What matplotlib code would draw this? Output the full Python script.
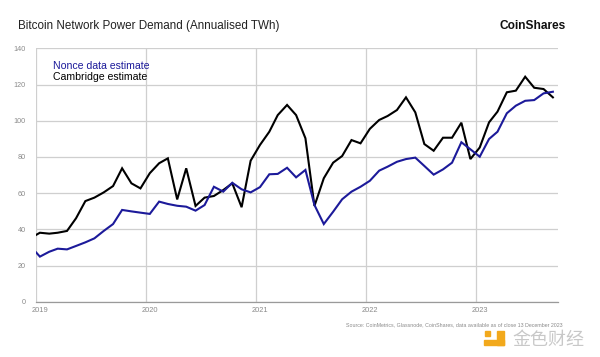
import datetime as dt
import matplotlib
matplotlib.use("Agg")
import matplotlib.pyplot as plt
from matplotlib.patches import Rectangle

# ---- data (monthly, mid-month, Dec 2018 .. Sep 2023) ----
start_year, start_month = 2018, 12
cambridge = [35.2,
             38.1, 37.6, 38.1, 39.1, 46.1, 55.6, 57.5, 60.4, 63.9, 73.7, 65.4, 62.6,
             71.0, 76.5, 79.2, 56.5, 73.7, 52.9, 57.5, 58.4, 61.7, 65.4, 52.2, 77.9,
             86.6, 93.9, 103.1, 108.7, 103.1, 90.3, 52.9, 68.2, 76.8, 80.5, 89.3, 87.5,
             95.5, 100.4, 102.6, 105.9, 112.9, 104.6, 87.1, 83.4, 90.6, 90.6, 98.9, 78.8,
             85.2, 99.1, 105.0, 115.7, 116.6, 124.3, 118.2, 117.5, 112.9]
nonce = [30.6,
         24.9, 27.6, 29.3, 28.9, 30.8, 32.8, 35.0, 39.1, 42.9, 50.7, 49.9, 49.2,
         48.5, 55.3, 54.0, 53.0, 52.5, 50.3, 53.4, 63.5, 60.8, 65.7, 62.1, 60.4,
         63.3, 70.4, 70.6, 74.0, 68.7, 72.8, 53.4, 42.9, 49.7, 56.6, 60.8, 63.5,
         66.8, 72.4, 74.6, 77.3, 78.8, 79.6, 75.0, 70.2, 73.1, 76.8, 88.1, 84.2,
         80.1, 89.9, 93.9, 104.1, 108.3, 111.0, 111.4, 115.1, 116.0]
years = [2019, 2020, 2021, 2022, 2023]
y_ticks = [0, 20, 40, 60, 80, 100, 120, 140]

dates = []
for i in range(len(cambridge)):
    m = start_month - 1 + i
    dates.append(dt.datetime(start_year + m // 12, m % 12 + 1, 15))

BLUE = "#1c1a9a"
GRID = "#cfcfcf"
TICK = "#8a8a8a"
FONT = ["Liberation Sans", "DejaVu Sans"]

fig = plt.figure(figsize=(6.0, 3.57), dpi=100)
ax = fig.add_axes([0.0595, 0.1549, 0.87, 0.7098])

ax.plot(dates, cambridge, color="black", lw=1.5, solid_joinstyle="miter", zorder=3)
ax.plot(dates, nonce, color=BLUE, lw=1.5, solid_joinstyle="miter", zorder=3)

ax.set_xlim(dt.datetime(2019, 1, 1), dt.datetime(2023, 10, 1))
ax.set_ylim(0, 140)

ax.set_xticks([dt.datetime(y, 1, 1) for y in years])
ax.set_xticklabels([])
ax.set_xticks([dt.datetime(y, 1, 15) for y in years], minor=True)
ax.set_xticklabels([str(y) for y in years], minor=True, fontsize=5.4,
                   color=TICK, family=FONT)
ax.tick_params(axis="x", which="both", length=0, pad=4)
ax.set_yticks(y_ticks)
ax.set_yticklabels([str(v) for v in y_ticks], fontsize=5.2, color=TICK, family=FONT)
ax.tick_params(axis="y", length=0, pad=7)

ax.grid(True, which="major", color=GRID, lw=0.9)
ax.set_axisbelow(True)
for s in ["top", "right", "left"]:
    ax.spines[s].set_visible(False)
ax.spines["bottom"].set_color("#9a9a9a")
ax.spines["bottom"].set_linewidth(0.9)

# legend-like labels
ax.text(0.033, 0.931, "Nonce data estimate", transform=ax.transAxes, color=BLUE,
        fontsize=7.6, family=FONT, va="center", ha="left")
ax.text(0.033, 0.886, "Cambridge estimate", transform=ax.transAxes, color="black",
        fontsize=7.6, family=FONT, va="center", ha="left")

# title and branding
fig.text(18 / 600, 1 - 26 / 357, "Bitcoin Network Power Demand (Annualised TWh)",
         fontsize=8.4, color="#222222", family=FONT, va="center", ha="left")
fig.text(566 / 600, 1 - 26 / 357, "CoinShares", fontsize=8.6, color="#111111",
         family=FONT, va="center", ha="right", weight="bold")
fig.text(563 / 600, 1 - 325 / 357,
         "Source: CoinMetrics, Glassnode, CoinShares, data available as of close 13 December 2023",
         fontsize=3.8, color="#8a8a8a", family=FONT, va="center", ha="right")

# watermark
fig.text(548 / 600, 1 - 340 / 357, "金色财经", fontsize=13, color="#c8c8c8",
         family=["Noto Sans CJK SC", "DejaVu Sans"], va="center", ha="center", zorder=5)
ORANGE = "#f2a91c"
fig.patches.append(Rectangle((497 / 600, 1 - 345 / 357), 7 / 600, 14 / 357,
                             transform=fig.transFigure, color=ORANGE, zorder=5))
fig.patches.append(Rectangle((484 / 600, 1 - 345 / 357), 20 / 600, 5 / 357,
                             transform=fig.transFigure, color=ORANGE, zorder=5))
fig.patches.append(Rectangle((485 / 600, 1 - 336 / 357), 5 / 600, 5 / 357,
                             transform=fig.transFigure, color=ORANGE, zorder=5))

fig.savefig("out.png", dpi=100)
